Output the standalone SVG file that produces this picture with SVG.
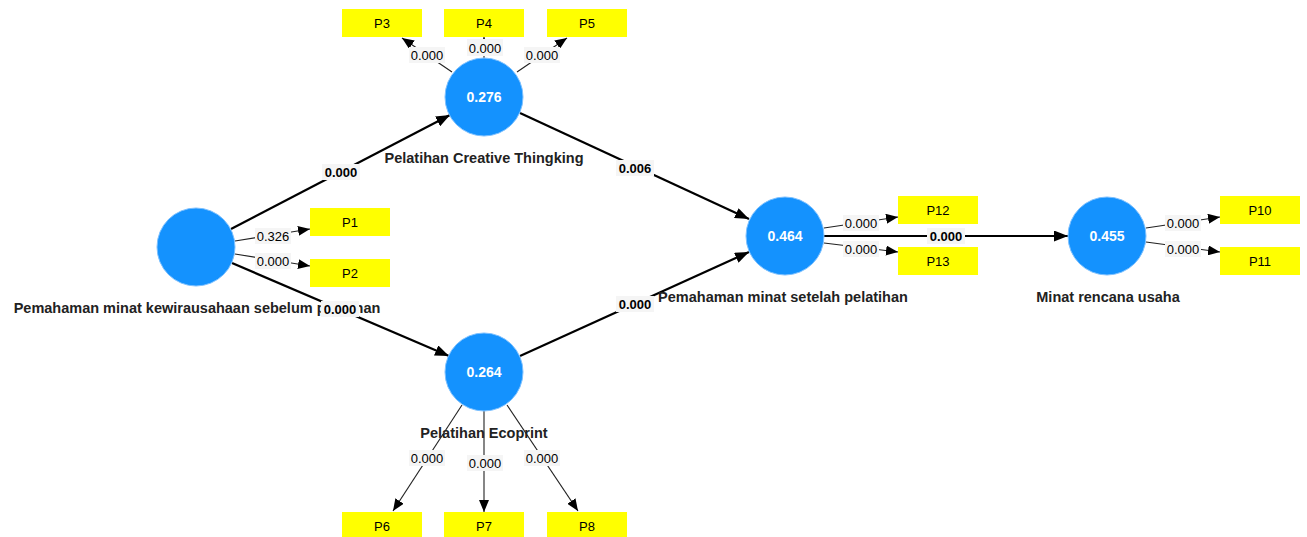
<svg xmlns="http://www.w3.org/2000/svg" width="1307" height="537" viewBox="0 0 1307 537">
<style>
.bg{fill:#ffffff}
.lv{fill:#1492fe;stroke:#7cc0ff;stroke-width:1}
.lvnum{font-family:"Liberation Sans",Arial,sans-serif;font-size:14px;font-weight:bold;fill:#ffffff;text-anchor:middle}
.lvname{font-family:"Liberation Sans",Arial,sans-serif;font-size:14.5px;font-weight:bold;fill:#222222;text-anchor:middle}
.ind{fill:#ffff00}
.indt{font-family:"Liberation Sans",Arial,sans-serif;font-size:13px;fill:#000000;text-anchor:middle}
.path{stroke:#000;stroke-width:2.2;fill:none}
.load{stroke:#222;stroke-width:1.1;fill:none}
.lblbg{fill:#f5f5f5}
.lblp{font-family:"Liberation Sans",Arial,sans-serif;font-size:13px;font-weight:bold;fill:#000;text-anchor:middle}
.lbll{font-family:"Liberation Sans",Arial,sans-serif;font-size:13px;fill:#000;text-anchor:middle}
</style>
<defs>
<marker id="ahb" viewBox="0 0 14 11" refX="14" refY="5.5" markerWidth="14" markerHeight="11" orient="auto" markerUnits="userSpaceOnUse"><path d="M0,0 L14,5.5 L0,11 z" fill="#000"/></marker>
<marker id="ahs" viewBox="0 0 12 10" refX="12" refY="5" markerWidth="12" markerHeight="10" orient="auto" markerUnits="userSpaceOnUse"><path d="M0,0 L12,5 L0,10 z" fill="#000"/></marker>
</defs>
<rect class="bg" x="0" y="0" width="1307" height="537"/>

<g id="connectors">
<line class="path" x1="231" y1="229" x2="450" y2="115" marker-end="url(#ahb)"/>
<line class="path" x1="232" y1="263" x2="449" y2="356" marker-end="url(#ahb)"/>
<line class="path" x1="520" y1="113" x2="749" y2="219" marker-end="url(#ahb)"/>
<line class="path" x1="520" y1="356" x2="749" y2="252" marker-end="url(#ahb)"/>
<line class="path" x1="824" y1="236" x2="1068" y2="236" marker-end="url(#ahb)"/>
<line class="load" x1="235" y1="241" x2="310" y2="229" marker-end="url(#ahs)"/>
<line class="load" x1="235" y1="254" x2="310" y2="266" marker-end="url(#ahs)"/>
<line class="load" x1="452" y1="72" x2="402" y2="38" marker-end="url(#ahs)"/>
<line class="load" x1="484" y1="58" x2="484" y2="37" marker-end="url(#ahs)"/>
<line class="load" x1="517" y1="72" x2="567" y2="38" marker-end="url(#ahs)"/>
<line class="load" x1="462" y1="405" x2="393" y2="511" marker-end="url(#ahs)"/>
<line class="load" x1="484" y1="411" x2="484" y2="512" marker-end="url(#ahs)"/>
<line class="load" x1="507" y1="405" x2="578" y2="511" marker-end="url(#ahs)"/>
<line class="load" x1="824" y1="228" x2="898" y2="217" marker-end="url(#ahs)"/>
<line class="load" x1="824" y1="243" x2="898" y2="252" marker-end="url(#ahs)"/>
<line class="load" x1="1146" y1="228" x2="1220" y2="217" marker-end="url(#ahs)"/>
<line class="load" x1="1146" y1="242" x2="1220" y2="252" marker-end="url(#ahs)"/>
</g>

<g id="node-pemahaman-sebelum">
<circle class="lv" cx="196" cy="247" r="39"/>
<text class="lvname" x="197" y="313">Pemahaman minat kewirausahaan sebelum pelatihan</text>
</g>
<g id="node-creative">
<circle class="lv" cx="484" cy="97" r="39"/>
<text class="lvnum" x="484" y="102">0.276</text>
<text class="lvname" x="484" y="163">Pelatihan Creative Thingking</text>
</g>
<g id="node-ecoprint">
<circle class="lv" cx="484" cy="372" r="39"/>
<text class="lvnum" x="484" y="377">0.264</text>
<text class="lvname" x="484" y="438">Pelatihan Ecoprint</text>
</g>
<g id="node-pemahaman-setelah">
<circle class="lv" cx="785" cy="236" r="39"/>
<text class="lvnum" x="785" y="241">0.464</text>
<text class="lvname" x="783" y="302">Pemahaman minat setelah pelatihan</text>
</g>
<g id="node-minat">
<circle class="lv" cx="1107" cy="236" r="39"/>
<text class="lvnum" x="1107" y="241">0.455</text>
<text class="lvname" x="1108" y="302">Minat rencana usaha</text>
</g>

<g id="ind-P1"><rect class="ind" x="310" y="208" width="80" height="28"/><text class="indt" x="350" y="227">P1</text></g>
<g id="ind-P2"><rect class="ind" x="310" y="259" width="80" height="28"/><text class="indt" x="350" y="278">P2</text></g>
<g id="ind-P3"><rect class="ind" x="342" y="9" width="80" height="28"/><text class="indt" x="382" y="28">P3</text></g>
<g id="ind-P4"><rect class="ind" x="444" y="9" width="80" height="28"/><text class="indt" x="484" y="28">P4</text></g>
<g id="ind-P5"><rect class="ind" x="547" y="9" width="80" height="28"/><text class="indt" x="587" y="28">P5</text></g>
<g id="ind-P6"><rect class="ind" x="342" y="512" width="80" height="28"/><text class="indt" x="382" y="531">P6</text></g>
<g id="ind-P7"><rect class="ind" x="444" y="512" width="80" height="28"/><text class="indt" x="484" y="531">P7</text></g>
<g id="ind-P8"><rect class="ind" x="547" y="512" width="80" height="28"/><text class="indt" x="587" y="531">P8</text></g>
<g id="ind-P12"><rect class="ind" x="898" y="196" width="80" height="28"/><text class="indt" x="938" y="215">P12</text></g>
<g id="ind-P13"><rect class="ind" x="898" y="247" width="80" height="28"/><text class="indt" x="938" y="266">P13</text></g>
<g id="ind-P10"><rect class="ind" x="1220" y="196" width="80" height="28"/><text class="indt" x="1260" y="215">P10</text></g>
<g id="ind-P11"><rect class="ind" x="1220" y="247" width="80" height="28"/><text class="indt" x="1260" y="266">P11</text></g>

<g id="connector-labels">
<rect class="lblbg" x="322" y="164" width="38" height="16"/><text class="lblp" x="341" y="177">0.000</text>
<rect class="lblbg" x="321" y="301" width="38" height="16"/><text class="lblp" x="340" y="314">0.000</text>
<rect class="lblbg" x="616" y="160" width="38" height="16"/><text class="lblp" x="635" y="173">0.006</text>
<rect class="lblbg" x="616" y="296" width="38" height="16"/><text class="lblp" x="635" y="309">0.000</text>
<rect class="lblbg" x="927" y="228" width="38" height="16"/><text class="lblp" x="946" y="241">0.000</text>
<rect class="lblbg" x="255" y="228" width="36" height="16"/><text class="lbll" x="273" y="241">0.326</text>
<rect class="lblbg" x="255" y="253" width="36" height="16"/><text class="lbll" x="273" y="266">0.000</text>
<rect class="lblbg" x="409" y="47" width="36" height="16"/><text class="lbll" x="427" y="60">0.000</text>
<rect class="lblbg" x="467" y="39" width="36" height="17"/><text class="lbll" x="485" y="53">0.000</text>
<rect class="lblbg" x="524" y="47" width="36" height="16"/><text class="lbll" x="542" y="60">0.000</text>
<rect class="lblbg" x="409" y="450" width="36" height="16"/><text class="lbll" x="427" y="463">0.000</text>
<rect class="lblbg" x="467" y="455" width="36" height="16"/><text class="lbll" x="485" y="468">0.000</text>
<rect class="lblbg" x="524" y="450" width="36" height="16"/><text class="lbll" x="542" y="463">0.000</text>
<rect class="lblbg" x="843" y="215" width="36" height="16"/><text class="lbll" x="861" y="228">0.000</text>
<rect class="lblbg" x="843" y="241" width="36" height="16"/><text class="lbll" x="861" y="254">0.000</text>
<rect class="lblbg" x="1165" y="215" width="36" height="16"/><text class="lbll" x="1183" y="228">0.000</text>
<rect class="lblbg" x="1165" y="241" width="36" height="16"/><text class="lbll" x="1183" y="254">0.000</text>
</g>
</svg>
